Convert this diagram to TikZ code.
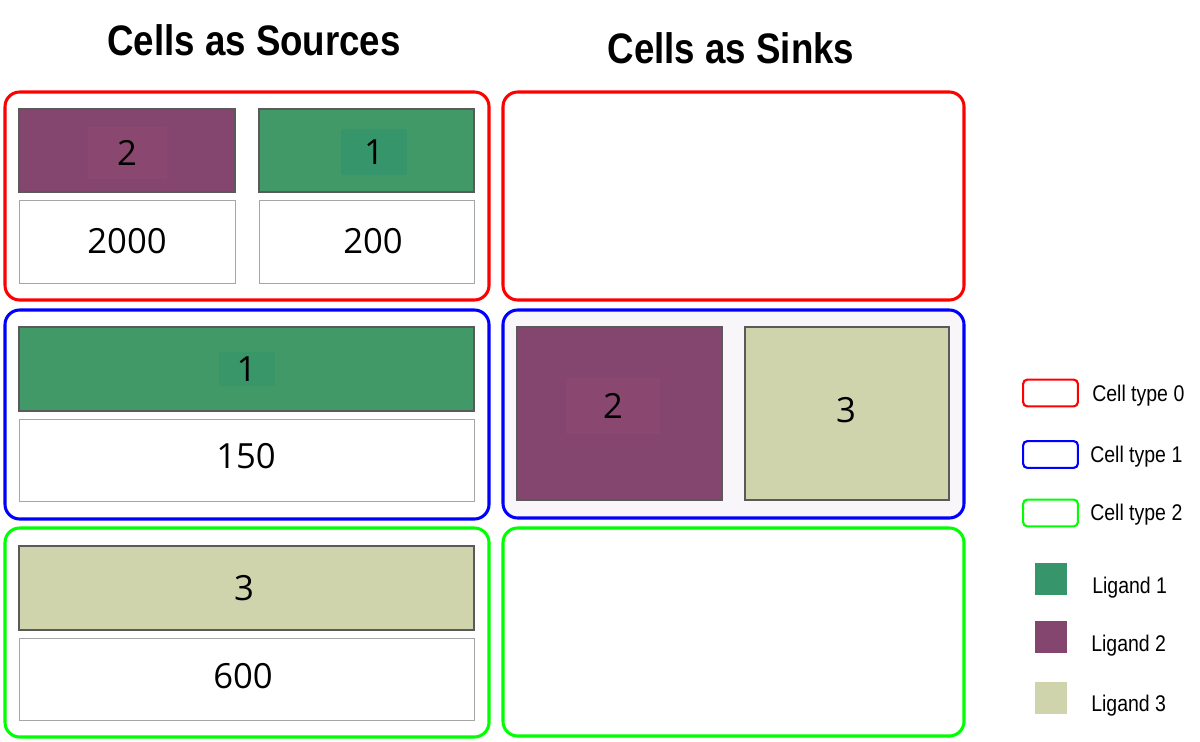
\documentclass[tikz,border=0pt]{standalone}
\usepackage{fontspec}
\setmainfont{Open Sans}
\newfontfamily\headfont[FakeStretch=0.86]{Liberation Sans}
\definecolor{ligA}{HTML}{419968}
\definecolor{ligAin}{HTML}{36956A}
\definecolor{ligB}{HTML}{84466E}
\definecolor{ligBin}{HTML}{8A4870}
\definecolor{ligC}{HTML}{D0D4AC}
\definecolor{cellR}{HTML}{FF0000}
\definecolor{cellB}{HTML}{0000FF}
\definecolor{cellG}{HTML}{00FF00}
\definecolor{edgegray}{HTML}{5A5A5A}
\definecolor{sinkbg}{HTML}{F8F6F8}
\begin{document}
\begin{tikzpicture}[x=0.75pt,y=-0.75pt,
  cellbox/.style={draw=#1, line width=2.3pt, rounded corners=11pt, inner sep=0pt},
  ligbox/.style={draw=edgegray, line width=0.8pt, fill=#1, inner sep=0pt},
  valbox/.style={draw=gray!70, line width=0.7pt, fill=white, inner sep=0pt, font=\fontsize{26}{30}\selectfont},
  lab/.style={inner sep=0pt, font=\fontsize{26}{30}\selectfont},
  title/.style={font=\headfont\bfseries\fontsize{32}{38}\selectfont},
  legtext/.style={anchor=west, inner sep=0pt, font=\headfont\fontsize{17}{20}\selectfont},
  legcell/.style={draw=#1, line width=1.6pt, rounded corners=3pt, minimum width=41pt, minimum height=20pt, inner sep=0pt},
  legsq/.style={fill=#1, minimum width=24pt, minimum height=24pt, inner sep=0pt}
]
\useasboundingbox (0,0) rectangle (1200,742);

% titles
\node[title] (tsrc) at (254,40) {Cells as Sources};
\node[title] (tsnk) at (731,48) {Cells as Sinks};

% cell boxes
\node[cellbox=cellR, minimum width={484*0.75pt}, minimum height={208*0.75pt}] (src0) at (247,196) {};
\node[cellbox=cellR, minimum width={461*0.75pt}, minimum height={208*0.75pt}] (snk0) at (733.5,196) {};
\node[cellbox=cellB, minimum width={484*0.75pt}, minimum height={209*0.75pt}] (src1) at (247,414.5) {};
\node[cellbox=cellB, fill=sinkbg, minimum width={461*0.75pt}, minimum height={208*0.75pt}] (snk1) at (733.5,414) {};
\node[cellbox=cellG, minimum width={484*0.75pt}, minimum height={209*0.75pt}] (src2) at (247,632.5) {};
\node[cellbox=cellG, minimum width={461*0.75pt}, minimum height={208*0.75pt}] (snk2) at (733.5,632) {};

% cell type 0 as source
\node[ligbox=ligB, minimum width={216*0.75pt}, minimum height={83*0.75pt}] (s0l2) at (127,150.5) {};
\node[lab, fill=ligBin, minimum width={79*0.75pt}, minimum height={52*0.75pt}] at (127,153) {2};
\node[ligbox=ligA, minimum width={215*0.75pt}, minimum height={83*0.75pt}] (s0l1) at (366.5,150.5) {};
\node[lab, fill=ligAin, minimum width={66*0.75pt}, minimum height={46*0.75pt}] at (374,152) {1};
\node[valbox, minimum width={216*0.75pt}, minimum height={83*0.75pt}] (s0v2) at (127,241.5) {2000};
\node[valbox, minimum width={215*0.75pt}, minimum height={83*0.75pt}] (s0v1) at (366.5,241.5) {};
\node[lab] at (373,241.5) {200};

% cell type 1 as source
\node[ligbox=ligA, minimum width={455*0.75pt}, minimum height={84*0.75pt}] (s1l1) at (246.5,369) {};
\node[lab, fill=ligAin!70!ligA, minimum width={56*0.75pt}, minimum height={34*0.75pt}] at (s1l1) {1};
\node[valbox, minimum width={455*0.75pt}, minimum height={82*0.75pt}] (s1v1) at (246.5,460) {};
\node[lab] at (246,456) {150};

% cell type 2 as source
\node[ligbox=ligC, minimum width={455*0.75pt}, minimum height={84*0.75pt}] (s2l3) at (246.5,588) {};
\node[lab] at (244,588) {3};
\node[valbox, minimum width={455*0.75pt}, minimum height={82*0.75pt}] (s2v3) at (246.5,679) {};
\node[lab] at (243,676) {600};

% cell type 1 as sink
\node[ligbox=ligB, minimum width={205*0.75pt}, minimum height={173*0.75pt}] (k1l2) at (619.5,413.5) {};
\node[lab, fill=ligBin, minimum width={94*0.75pt}, minimum height={56*0.75pt}] at (613,406) {2};
\node[ligbox=ligC, minimum width={204*0.75pt}, minimum height={173*0.75pt}] (k1l3) at (847,413.5) {};
\node[lab] at (846,410) {3};

% legend
\node[legcell=cellR] (lg0) at (1050.5,393) {};
\node[legtext] at (1092,396) {Cell type 0};
\node[legcell=cellB] (lg1) at (1050.5,454.5) {};
\node[legtext] at (1090,457) {Cell type 1};
\node[legcell=cellG] (lg2) at (1050.5,513) {};
\node[legtext] at (1090,515) {Cell type 2};
\node[legsq=ligAin] (lq1) at (1051,578.5) {};
\node[legtext] at (1092,588) {Ligand 1};
\node[legsq=ligB] (lq2) at (1051,637) {};
\node[legtext] at (1091,646) {Ligand 2};
\node[legsq=ligC] (lq3) at (1051,697.5) {};
\node[legtext] at (1091,706) {Ligand 3};
\end{tikzpicture}
\end{document}
